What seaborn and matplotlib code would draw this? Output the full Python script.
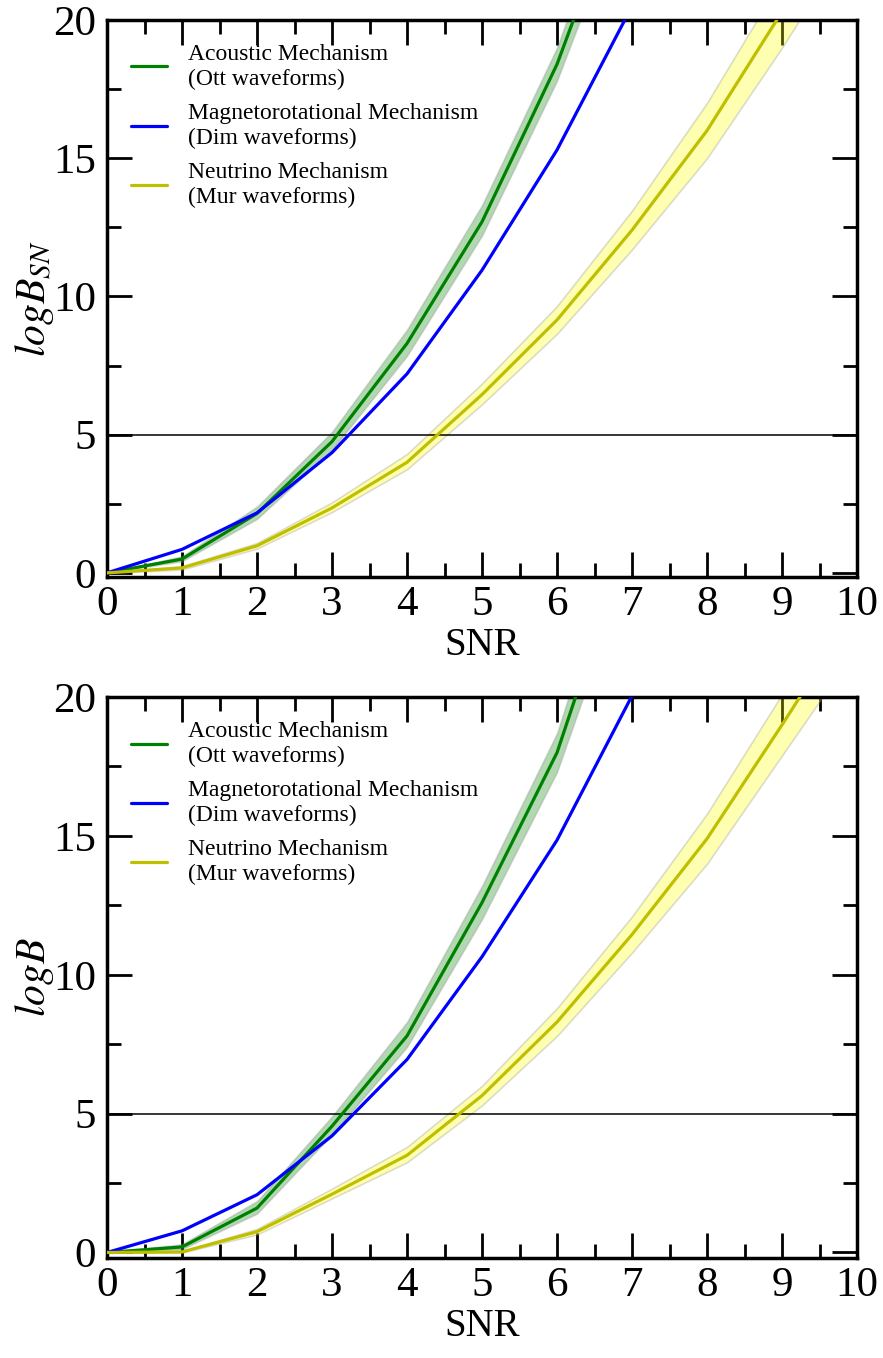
# Bayes factor vs SNR for the three explosion mechanisms

import numpy as np
import matplotlib.pyplot as plt
import seaborn as sns
import pandas as pd
from matplotlib.ticker import MultipleLocator

sns.set_style('ticks', {'axes.edgecolor': 'black', 'xtick.color': 'black',
                        'ytick.color': 'black', 'text.color': 'black',
                        'axes.labelcolor': 'black'})
plt.rcParams['font.family'] = ['Liberation Serif', 'DejaVu Serif']
plt.rcParams['mathtext.fontset'] = 'stix'

snr = np.arange(0, 11)

## top panel: log B_SN
ott_sn = [0, 0.5, 2.15, 4.75, 8.3, 12.7, 18.4, 25.7]
ott_sn_lo = [0, 0.42, 1.95, 4.45, 7.85, 12.2, 17.8, 24.9]
ott_sn_hi = [0, 0.6, 2.4, 5.1, 8.8, 13.3, 19.0, 26.6]
dim_sn = [0, 0.85, 2.17, 4.35, 7.2, 10.95, 15.3, 20.5]
mur_sn = [0, 0.18, 0.98, 2.35, 4.0, 6.45, 9.15, 12.4, 16.0, 20.3, 24.8]
mur_sn_lo = [0, 0.12, 0.88, 2.2, 3.75, 6.1, 8.65, 11.7, 15.0, 19.0, 23.3]
mur_sn_hi = [0, 0.24, 1.08, 2.55, 4.3, 6.85, 9.65, 13.1, 17.0, 21.5, 26.3]

## bottom panel: log B
ott_b = [0, 0.2, 1.6, 4.55, 7.8, 12.6, 18.0, 26.1]
ott_b_lo = [0, 0.12, 1.4, 4.25, 7.4, 12.0, 17.3, 25.0]
ott_b_hi = [0, 0.3, 1.85, 4.9, 8.3, 13.2, 18.7, 27.2]
dim_b = [0, 0.78, 2.08, 4.2, 6.95, 10.65, 14.85, 20.05]
mur_b = [0, 0.02, 0.75, 2.1, 3.5, 5.65, 8.3, 11.45, 14.9, 19.0, 23.2]
mur_b_lo = [0, 0.0, 0.65, 1.95, 3.25, 5.3, 7.8, 10.8, 14.0, 17.9, 21.8]
mur_b_hi = [0, 0.05, 0.85, 2.3, 3.8, 6.0, 8.8, 12.1, 15.8, 20.1, 24.6]

labels = ['Acoustic Mechanism\n(Ott waveforms)',
          'Magnetorotational Mechanism\n(Dim waveforms)',
          'Neutrino Mechanism\n(Mur waveforms)']
colors = ['green', 'blue', '#bfbf00']
fills = ['green', None, 'yellow']


def panel(ax, series, bands, ylab, ybot):
    for i, (y, lab, c) in enumerate(zip(series, labels, colors)):
        x = snr[:len(y)]
        if bands[i] is not None:
            lo, hi = bands[i]
            ax.fill_between(x, lo, hi, facecolor=fills[i], alpha=0.3,
                            edgecolor='0.55', linewidth=1.2, zorder=1)
        df = pd.DataFrame({'SNR': x, 'val': y})
        sns.lineplot(data=df, x='SNR', y='val', ax=ax, color=c, linewidth=2.3,
                     label=lab, zorder=3)
    ax.axhline(5, color='k', linewidth=1.1, zorder=2)
    ax.set_xlim(0, 10)
    ax.set_ylim(ybot, 20)
    ax.xaxis.set_major_locator(MultipleLocator(1))
    ax.xaxis.set_minor_locator(MultipleLocator(0.5))
    ax.yaxis.set_major_locator(MultipleLocator(5))
    ax.yaxis.set_minor_locator(MultipleLocator(2.5))
    ax.tick_params(which='both', direction='in', top=True, right=True, width=2,
                   color='black', labelcolor='black')
    ax.tick_params(which='major', length=18, labelsize=31)
    ax.tick_params(which='minor', length=10)
    ax.tick_params(axis='x', pad=6)
    ax.tick_params(axis='y', pad=8)
    for s in ax.spines.values():
        s.set_linewidth(2.5)
        s.set_color('black')
    ax.set_xlabel('SNR', fontsize=28, labelpad=2, color='black')
    ax.set_ylabel(ylab, fontsize=30, labelpad=-2, color='black')
    leg = ax.legend(loc='upper left', bbox_to_anchor=(0.0, 1.0), frameon=False,
                    fontsize=17, handlelength=1.55, handletextpad=0.9,
                    labelspacing=0.55, borderaxespad=0.6)
    for t in leg.get_texts():
        t.set_linespacing(1.25)
        t.set_color('black')


fig = plt.figure(figsize=(8.83, 13.58), dpi=100)
ax1 = fig.add_axes([0.1212, 0.5751, 0.8494, 0.4102])
ax2 = fig.add_axes([0.1212, 0.0736, 0.8494, 0.4131])

panel(ax1, [ott_sn, dim_sn, mur_sn],
      [(ott_sn_lo, ott_sn_hi), None, (mur_sn_lo, mur_sn_hi)],
      r'$log B_{SN}$', -0.15)
panel(ax2, [ott_b, dim_b, mur_b],
      [(ott_b_lo, ott_b_hi), None, (mur_b_lo, mur_b_hi)],
      r'$log B$', -0.2)

plt.savefig('out.png', dpi=100)
